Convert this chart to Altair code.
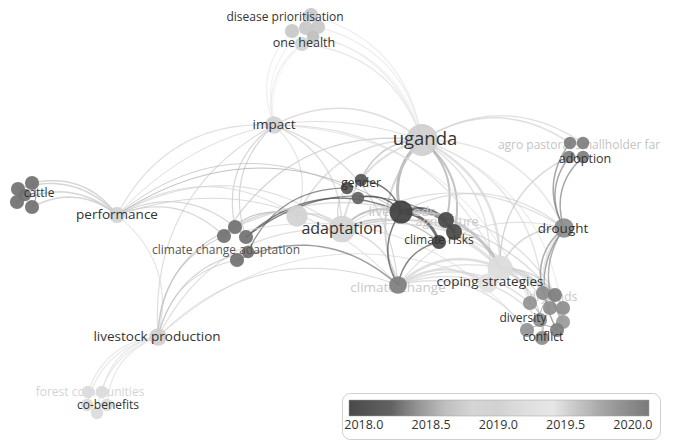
import altair as alt
import numpy as np
import pandas as pd

# ---------------- data ----------------
node_id = ["dp1", "dp2", "dp3", "dp4", "dp5", "oh",
           "impact", "uganda",
           "cat1", "cat2", "cat3", "cat4", "cat5",
           "performance",
           "cca1", "cca2", "cca3", "cca4", "cca5",
           "adapt2", "adaptation",
           "gen1", "gen2", "gen3",
           "livelihoods",
           "agr1", "agr2", "agr3",
           "climate-change",
           "coping", "coping2",
           "drought",
           "ado1", "ado2", "ado3", "ado4",
           "dry1", "dry2", "dry3", "dry4", "dry5", "dry6", "dry7", "dry8", "dry9", "dry10",
           "livestock production",
           "cob1", "cob2", "cob3", "cob4", "cob5"]
node_x = [292, 306, 318, 311, 313, 302,
          274, 422,
          32, 18, 17, 32, 25,
          117,
          235, 224, 246, 248, 237,
          297, 342,
          347, 361, 358,
          401,
          446, 454, 439,
          398,
          500, 488,
          564,
          570, 583, 569, 583,
          530, 543, 555, 563, 563, 550, 540, 527, 542, 557,
          158,
          88, 102, 87, 107, 97]
node_y = [31, 28, 27, 15, 37, 44,
          125, 140,
          183, 189, 202, 207, 195,
          215,
          227, 236, 237, 252, 260,
          216, 229,
          188, 180, 198,
          212,
          220, 232, 242,
          285,
          268, 283,
          228,
          143, 143, 157, 157,
          303, 293, 295, 308, 322, 308, 320, 330, 338, 330,
          337,
          392, 392, 405, 405, 413]
node_r = [8, 8, 8, 8, 7, 8,
          10, 18,
          8, 8, 8, 8, 7,
          9,
          8, 8, 8, 7, 8,
          12, 15,
          7, 7, 7,
          13,
          9, 9, 8,
          10,
          14, 11,
          11,
          7, 7, 7, 7,
          8, 8, 8, 8, 8, 8, 8, 8, 8, 8,
          10,
          7, 7, 7, 7, 7]
node_year = [2019.55, 2019.55, 2019.55, 2019.55, 2019.6, 2019.5,
             2019.05, 2019.0,
             2018.3, 2018.3, 2018.3, 2018.3, 2018.3,
             2019.05,
             2018.3, 2018.3, 2018.3, 2018.3, 2018.3,
             2018.8, 2019.1,
             2018.2, 2018.2, 2018.25,
             2017.95,
             2018.05, 2018.05, 2018.0,
             2018.35,
             2019.2, 2019.25,
             2019.9,
             2020.0, 2020.0, 2020.0, 2020.0,
             2019.85, 2019.9, 2020.0, 2019.9, 2019.8, 2018.4, 2019.9, 2019.85, 2019.9, 2020.0,
             2019.0,
             2019.45, 2019.45, 2019.45, 2019.45, 2019.45]

edge_src = ["uganda"] * 22 + ["impact"] * 13 + ["performance"] * 12 + ["livestock production"] * 12 + \
           ["cca1", "cca2", "cca3", "cca4", "cca5", "cca1", "cca3", "cca2"] + \
           ["adaptation"] * 9 + ["livelihoods"] * 9 + ["climate-change"] * 8 + ["coping"] * 9 + \
           ["drought"] * 7 + ["dry1", "dry3", "dry8", "cob1", "cob3", "cat1", "cat3"]
edge_dst = ["dp1", "dp3", "oh", "dp4", "impact", "adaptation", "adapt2", "gen2", "livelihoods", "agr1",
            "agr2", "coping", "coping2", "drought", "ado1", "ado2", "dry2", "dry5", "climate-change",
            "performance", "cca2", "dp5",
            "dp1", "dp2", "oh", "dp5", "performance", "cca1", "cca3", "adaptation", "livestock production",
            "climate-change", "coping", "adapt2", "dry1",
            "cat1", "cat2", "cat3", "cat4", "cca1", "cca2", "adaptation", "adapt2", "livelihoods",
            "climate-change", "livestock production", "gen1",
            "cob1", "cob2", "cob3", "cob4", "cob5", "cca1", "cca2", "cca4", "adaptation", "climate-change",
            "coping2", "cca5",
            "adaptation", "adapt2", "livelihoods", "gen1", "climate-change", "coping", "agr1", "dry8",
            "adapt2", "gen1", "livelihoods", "agr3", "climate-change", "coping", "drought", "dry3", "dry6",
            "agr1", "agr2", "agr3", "gen2", "gen3", "coping", "climate-change", "drought", "dry4",
            "coping", "coping2", "dry1", "dry3", "dry7", "dry8", "drought", "agr3",
            "drought", "dry1", "dry2", "dry4", "dry5", "dry6", "dry9", "ado3", "agr2",
            "ado1", "ado3", "ado4", "dry2", "dry5", "dry10", "dry6",
            "dry9", "dry7", "dry10", "cob4", "cob5", "cat4", "cat5"]
edge_w = [1.5, 1.2, 1.5, 1.2, 1.5, 2, 1.5, 1.5, 3, 2,
          2, 2.5, 1.5, 1.5, 1.5, 1.2, 1.5, 1.2, 2,
          1, 1.2, 1,
          1.2, 1, 1.2, 1, 1.2, 1.2, 1.2, 1.5, 1.2,
          1.2, 1.2, 1, 1,
          1.5, 1.5, 1.5, 1.5, 1.2, 1.2, 1.2, 1, 1,
          1, 1, 1,
          1.2, 1.2, 1.2, 1.2, 1.2, 1.2, 1.2, 1.2, 1.2, 1,
          1, 1,
          1.5, 1.2, 1.5, 1.2, 1.5, 1.5, 1.2, 1,
          1.5, 1.2, 2, 1.5, 1.5, 2, 1.2, 1.2, 1.2,
          2.5, 2.5, 3, 1.5, 1.5, 3, 1.5, 1.2, 1.2,
          2.5, 2, 1.5, 1.5, 1.5, 1.5, 1.2, 1.5,
          1.5, 1.5, 1.5, 1.5, 1.5, 1.5, 1.5, 1.2, 1.5,
          1.5, 1.5, 1.5, 1.5, 1.5, 1.5, 1.2,
          1, 1, 1, 1, 1, 1, 1]

label_text = ["disease prioritisation", "one health", "impact", "uganda", "cattle", "performance",
              "climate change adaptation", "adaptation", "gender", "livelihoods", "agriculture",
              "climate risks", "climate-change", "coping strategies", "drought",
              "agro pastoral smallholder far", "adoption", "drylands", "diversity", "conflict",
              "livestock production", "forest communities", "co-benefits"]
label_x = [285, 304, 274, 425, 39, 117, 226, 342, 361, 402, 447, 439, 398, 490, 563, 579, 585, 553,
           523, 543, 157, 90, 108]
label_y = [17, 43, 125, 139, 193, 215, 250, 229, 183, 212, 222, 240, 288, 282, 229, 145, 159, 297,
           318, 337, 337, 392, 405]
label_size = [12, 12.5, 13.5, 18.5, 12, 13.5, 12, 16, 12, 13.5, 12.5, 12, 13.5, 13.5, 13.5, 12, 12.5,
              12, 12, 12, 13.5, 12, 12]
label_tone = ["#333", "#333", "#333", "#333", "#333", "#333", "#555", "#333", "#333", "#c8c8c8",
              "#c8c8c8", "#333", "#c8c8c8", "#333", "#333", "#c4c4c4", "#333", "#c8c8c8", "#333",
              "#333", "#333", "#d4d4d4", "#333"]
label_faint = [t not in ("#333", "#555") for t in label_tone]

legend_years = [2018.0, 2018.5, 2019.0, 2019.5, 2020.0]
grad_domain = [2017.89, 2018.2, 2018.5, 2018.75, 2019.0, 2019.2, 2019.35, 2019.55, 2019.8, 2020.12]
grad_range = ["#3a3a3a", "#555555", "#a8a8a8", "#d3d3d3", "#cfcfcf", "#dcdcdc", "#efefef",
              "#c8c8c8", "#9a9a9a", "#6e6e6e"]

# ---------------- tables ----------------
nodes = pd.DataFrame({"id": node_id, "x": node_x, "y": node_y, "r": node_r, "year": node_year})
nodes["area"] = np.pi * nodes["r"] ** 2
pos = nodes.set_index("id")

rows = []
ts = np.linspace(0, 1, 25)
for i, (s, d, w) in enumerate(zip(edge_src, edge_dst, edge_w)):
    a = pos.loc[s]
    b = pos.loc[d]
    p0 = np.array([a.x, a.y], float)
    p2 = np.array([b.x, b.y], float)
    if (p0[0], p0[1]) > (p2[0], p2[1]):
        p0, p2 = p2, p0
    dx, dy = p2 - p0
    ctrl = (p0 + p2) / 2 + 0.32 * np.array([dy, -dx])
    yr = (a.year + b.year) / 2
    for t in ts:
        pt = (1 - t) ** 2 * p0 + 2 * (1 - t) * t * ctrl + t ** 2 * p2
        rows.append({"e": f"e{i}", "t": t, "x": pt[0], "y": pt[1], "w": w, "eyear": yr})
edges = pd.DataFrame(rows)

labels = pd.DataFrame({"text": label_text, "x": label_x, "y": label_y,
                       "size": label_size, "tone": label_tone, "faint": label_faint})

# ---------------- chart ----------------
xs = alt.Scale(domain=[8, 666], nice=False, zero=False)
ys = alt.Scale(domain=[8, 441], nice=False, zero=False, reverse=True)
cscale = alt.Scale(domain=grad_domain, range=grad_range, interpolate="rgb")
leg = alt.Legend(type="gradient", orient="none", legendX=334, legendY=385, direction="horizontal",
                 gradientLength=300, gradientThickness=16, title=None, values=legend_years,
                 format=".1f", labelFontSize=12.5, labelColor="#333", labelFont="Open Sans",
                 fillColor="white", strokeColor="#cfcfcf", cornerRadius=8, padding=7,
                 gradientStrokeColor="#999", gradientStrokeWidth=0.5, labelOffset=3)

X = alt.X("x:Q", scale=xs, axis=None)
Y = alt.Y("y:Q", scale=ys, axis=None)

edge_layer = alt.Chart(edges).mark_line(opacity=0.72, strokeCap="round").encode(
    x=X, y=Y,
    detail="e:N",
    order="t:Q",
    color=alt.Color("eyear:Q", scale=cscale, legend=None),
    strokeWidth=alt.StrokeWidth("w:Q", scale=None),
)

faint_labels = alt.Chart(labels).transform_filter("datum.faint").mark_text(
    font="Open Sans", align="center", baseline="middle").encode(
    x=X, y=Y, text="text:N",
    size=alt.Size("size:Q", scale=None),
    color=alt.Color("tone:N", scale=None),
)

node_layer = alt.Chart(nodes).mark_circle(opacity=0.92).encode(
    x=X, y=Y,
    size=alt.Size("area:Q", scale=None),
    color=alt.Color("year:Q", scale=cscale, legend=leg),
)

dark_labels = alt.Chart(labels).transform_filter("!datum.faint").mark_text(
    font="Open Sans", align="center", baseline="middle").encode(
    x=X, y=Y, text="text:N",
    size=alt.Size("size:Q", scale=None),
    color=alt.Color("tone:N", scale=None),
)

chart = alt.layer(edge_layer, faint_labels, node_layer, dark_labels).resolve_scale(
    color="independent").properties(
    width=658, height=433, padding=0, autosize=alt.AutoSizeParams(type="none"),
    background="white",
).configure_view(stroke=None)

chart.save("out.html", embed_options={"renderer": "svg", "actions": False})
